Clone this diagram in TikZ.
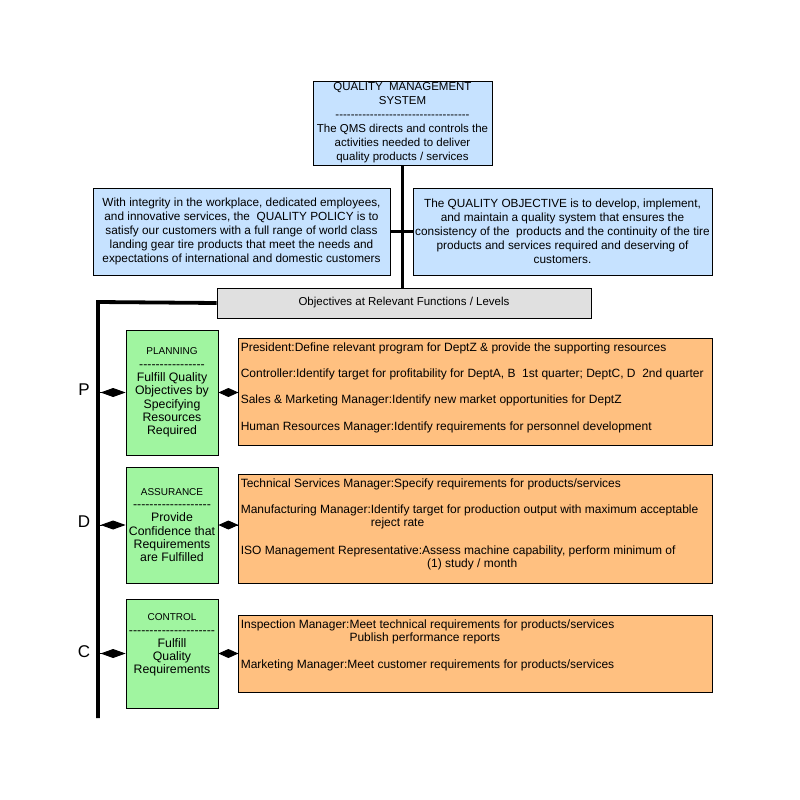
\documentclass[tikz,border=0pt]{standalone}
\usepackage{fontspec}
\setmainfont{Liberation Sans}
\usetikzlibrary{positioning}
\usetikzlibrary{calc}
\usetikzlibrary{arrows.meta}

\definecolor{qmsblue}{RGB}{198,226,255}
\definecolor{stepgreen}{RGB}{160,245,160}
\definecolor{roleorange}{RGB}{255,192,128}
\definecolor{levelgray}{RGB}{224,224,224}

\newcommand{\dashrow}[1]{\foreach \i in {1,...,#1}{-}}
\newcommand{\role}[2]{#1\begin{tabular}[t]{@{}l@{}}#2\end{tabular}}

\tikzset{
  box/.style={draw=black,line width=0.8pt,inner sep=1pt,align=center},
  bluebox/.style={box,fill=qmsblue,font=\fontsize{11.5}{14}\selectfont},
  graybox/.style={box,fill=levelgray,font=\fontsize{11.5}{14}\selectfont},
  greenbox/.style={box,fill=stepgreen,minimum width=92pt,font=\fontsize{12.3}{13.3}\selectfont},
  orangebox/.style={box,fill=roleorange,minimum width=474pt},
  roles/.style={inner sep=0pt,align=left,font=\fontsize{12}{13.3}\selectfont},
  letter/.style={inner sep=0pt,font=\fontsize{17}{17}\selectfont},
  trunk/.style={line width=3.8pt,line join=miter},
  dlink/.style={line width=1pt,-{Diamond[length=25pt,width=9pt]}},
  rlink/.style={line width=1pt,{Diamond[length=20pt,width=9pt]}-}
}

\begin{document}
\begin{tikzpicture}[x=1pt,y=-1pt]
\useasboundingbox (0,0) rectangle (800,800);

\node[bluebox,minimum width=179pt,minimum height=84pt](qms) at (402.5,123){QUALITY\ \ MANAGEMENT\\SYSTEM\\\dashrow{35}\\The QMS directs and controls the\\activities needed to deliver\\quality products / services};
\node[bluebox,minimum width=297pt,minimum height=87pt,font=\fontsize{11.8}{14}\selectfont](policy) at (241.5,231.5){With integrity in the workplace, dedicated employees,\\and innovative services, the\ \ QUALITY POLICY\ is to\\satisfy our customers with a full range of world class\\landing gear tire products that meet the needs and\\expectations of international and domestic customers};
\node[bluebox,minimum width=299pt,minimum height=87pt,font=\fontsize{11.8}{14}\selectfont](objective) at (562.5,231.5){The QUALITY OBJECTIVE\ is to develop, implement,\\and maintain a quality system that ensures the\\consistency of the\ \ products and the continuity of the tire\\products and services required and deserving of\\customers.};
\node[graybox,minimum width=374pt,minimum height=30pt](levels) at (404,303){Objectives at Relevant Functions / Levels};

\node[greenbox,minimum height=125pt](plan) at (172,392.5){{\fontsize{10}{13}\selectfont PLANNING}\\\dashrow{16}\\Fulfill Quality\\Objectives by\\Specifying\\Resources\\Required};
\node[greenbox,minimum height=116pt](assure) at (172,525){{\fontsize{10}{13}\selectfont ASSURANCE}\\\dashrow{19}\\Provide\\Confidence that\\Requirements\\are Fulfilled};
\node[greenbox,minimum height=109pt](control) at (172,653.5){{\fontsize{10}{13}\selectfont CONTROL}\\\dashrow{21}\\Fulfill\\Quality\\Requirements\\[6pt]};

\node[orangebox,minimum height=107pt](plantasks) at (475,391.5){};
\node[orangebox,minimum height=109pt](assuretasks) at (475,528.5){};
\node[orangebox,minimum height=77pt](controltasks) at (475,653.5){};

\node[roles,anchor=north west](plantext) at ([shift={(3,4)}]plantasks.north west){\role{President:}{Define relevant program for DeptZ \& provide the supporting resources}\\[13pt]\role{Controller:}{Identify target for profitability for DeptA, B\ \ 1st quarter; DeptC, D\ \ 2nd quarter}\\[13pt]\role{Sales \& Marketing Manager:}{Identify new market opportunities for DeptZ}\\[13pt]\role{Human Resources Manager:}{Identify requirements for personnel development}};
\node[roles,anchor=north west](assuretext) at ([shift={(3,4)}]assuretasks.north west){\role{Technical Services Manager:}{Specify requirements for products/services}\\[13pt]\role{Manufacturing Manager:}{Identify target for production output with maximum acceptable\\reject rate}\\[13pt]\role{ISO Management Representative:}{Assess machine capability, perform minimum of\\\hspace{5pt}(1) study / month}};
\node[roles,anchor=north west](controltext) at ([shift={(3,4)}]controltasks.north west){\role{Inspection Manager:}{Meet technical requirements for products/services\\Publish performance reports}\\[13pt]\role{Marketing Manager:}{Meet customer requirements for products/services}};

\node[letter](P) at (84,390){P};
\node[letter](D) at (84,522){D};
\node[letter](C) at (84,652){C};

\coordinate(bend) at (98,302);
\coordinate(foot) at (98,718);
\coordinate(barP) at (98,392.5);
\coordinate(barD) at (98,525);
\coordinate(barC) at (98,653.5);

\draw[trunk] (levels.west) -- (bend) -- (foot);
\path
(qms.south) edge[trunk] (qms.south |- levels.north)
(policy) edge[trunk] (objective)
(barP) edge[dlink] (plan)
(barD) edge[dlink] (assure)
(barC) edge[dlink] (control)
(plan.east) edge[rlink] (plan.east -| plantasks.west)
(assure.east) edge[rlink] (assure.east -| assuretasks.west)
(control.east) edge[rlink] (control.east -| controltasks.west);
\end{tikzpicture}
\end{document}
